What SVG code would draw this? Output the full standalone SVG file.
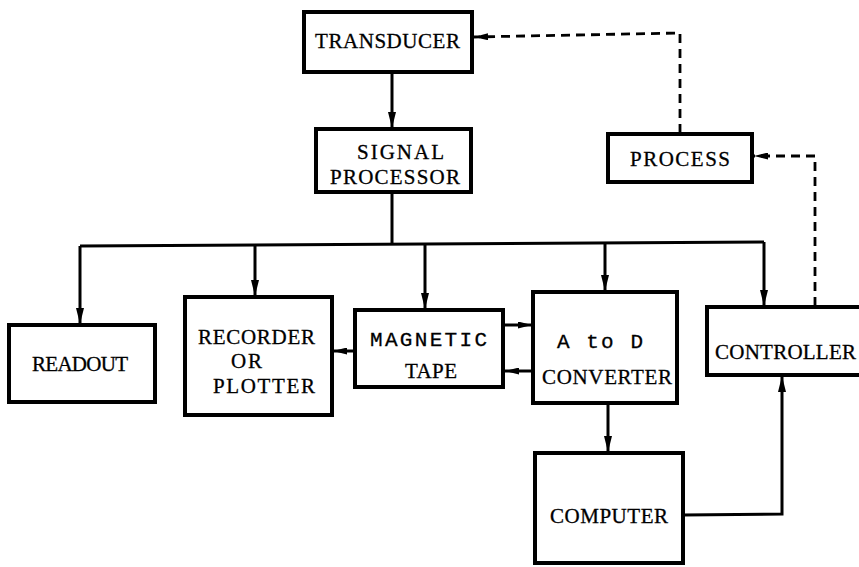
<svg xmlns="http://www.w3.org/2000/svg" width="859" height="567" viewBox="0 0 859 567">
<style>
.box{fill:#fff;stroke:#000;stroke-width:4}
.t{font-family:"Liberation Serif",serif;font-size:21px;fill:#000;stroke:#000;stroke-width:0.3}
.m{font-family:"Liberation Mono",monospace;font-size:21px;fill:#000;stroke:#000;stroke-width:0.3}
.ln{fill:none;stroke:#000;stroke-width:3}
.dl{fill:none;stroke:#000;stroke-width:2.8;stroke-dasharray:9,6}
</style>
<defs>
<marker id="ah" viewBox="0 0 10 10" refX="10" refY="5" markerWidth="14" markerHeight="7" markerUnits="userSpaceOnUse" orient="auto" preserveAspectRatio="none">
<path d="M0,0 L10,5 L0,10 z" fill="#000"/>
</marker>
<marker id="av" viewBox="0 0 10 10" refX="10" refY="5" markerWidth="16" markerHeight="8" markerUnits="userSpaceOnUse" orient="auto" preserveAspectRatio="none">
<path d="M0,0 L10,5 L0,10 z" fill="#000"/>
</marker>
</defs>
<g id="connectors">
<path class="ln" d="M392,72 L392,128" marker-end="url(#av)"/>
<path class="ln" d="M392,192 L392,244"/>
<path class="ln" d="M80,246 L764,242"/>
<path class="ln" d="M80,246 L80,324" marker-end="url(#av)"/>
<path class="ln" d="M255,245 L255,296" marker-end="url(#av)"/>
<path class="ln" d="M425,244 L425,309" marker-end="url(#av)"/>
<path class="ln" d="M605,243 L605,291" marker-end="url(#av)"/>
<path class="ln" d="M764,242 L764,306" marker-end="url(#av)"/>
<path class="ln" d="M355,351 L333,351" marker-end="url(#ah)"/>
<path class="ln" d="M504,325 L532,325" marker-end="url(#ah)"/>
<path class="ln" d="M532,371 L505,371" marker-end="url(#ah)"/>
<path class="ln" d="M608,403 L608,452" marker-end="url(#av)"/>
<path class="ln" d="M683,515 L782,514 L782,376" marker-end="url(#av)"/>
<path class="dl" d="M815,306 L815,156 L754,156" marker-end="url(#ah)"/>
<path class="dl" d="M680,133 L680,33 L474,37" marker-end="url(#ah)"/>
</g>
<g id="transducer"><rect class="box" x="304" y="12" width="168" height="60"/><text class="t" x="315" y="48" textLength="145">TRANSDUCER</text></g>
<g id="signal-processor"><rect class="box" x="316" y="129" width="155" height="63"/><text class="t" x="357" y="159" textLength="87">SIGNAL</text><text class="t" x="330" y="184" textLength="130">PROCESSOR</text></g>
<g id="process"><rect class="box" x="608" y="134" width="144" height="48"/><text class="t" x="630" y="166" textLength="100">PROCESS</text></g>
<g id="readout"><rect class="box" x="9" y="325" width="146" height="77"/><text class="t" x="32" y="371" textLength="96">READOUT</text></g>
<g id="recorder"><rect class="box" x="185" y="297" width="147" height="118"/><text class="t" x="198" y="344" textLength="117">RECORDER</text><text class="t" x="231" y="368" textLength="31">OR</text><text class="t" x="213" y="393" textLength="102">PLOTTER</text></g>
<g id="magnetic-tape"><rect class="box" x="355" y="310" width="148" height="77"/><text class="m" x="370" y="346" textLength="117">MAGNETIC</text><text class="t" x="405" y="378" textLength="52">TAPE</text></g>
<g id="a-to-d"><rect class="box" x="533" y="292" width="144" height="111"/><text class="m" x="557" y="348" textLength="86">A to D</text><text class="t" x="542" y="384" textLength="130">CONVERTER</text></g>
<g id="controller"><rect class="box" x="707" y="307" width="170" height="68"/><text class="t" x="715" y="359" textLength="141">CONTROLLER</text></g>
<g id="computer"><rect class="box" x="535" y="453" width="148" height="110"/><text class="t" x="550" y="523" textLength="118">COMPUTER</text></g>
</svg>
